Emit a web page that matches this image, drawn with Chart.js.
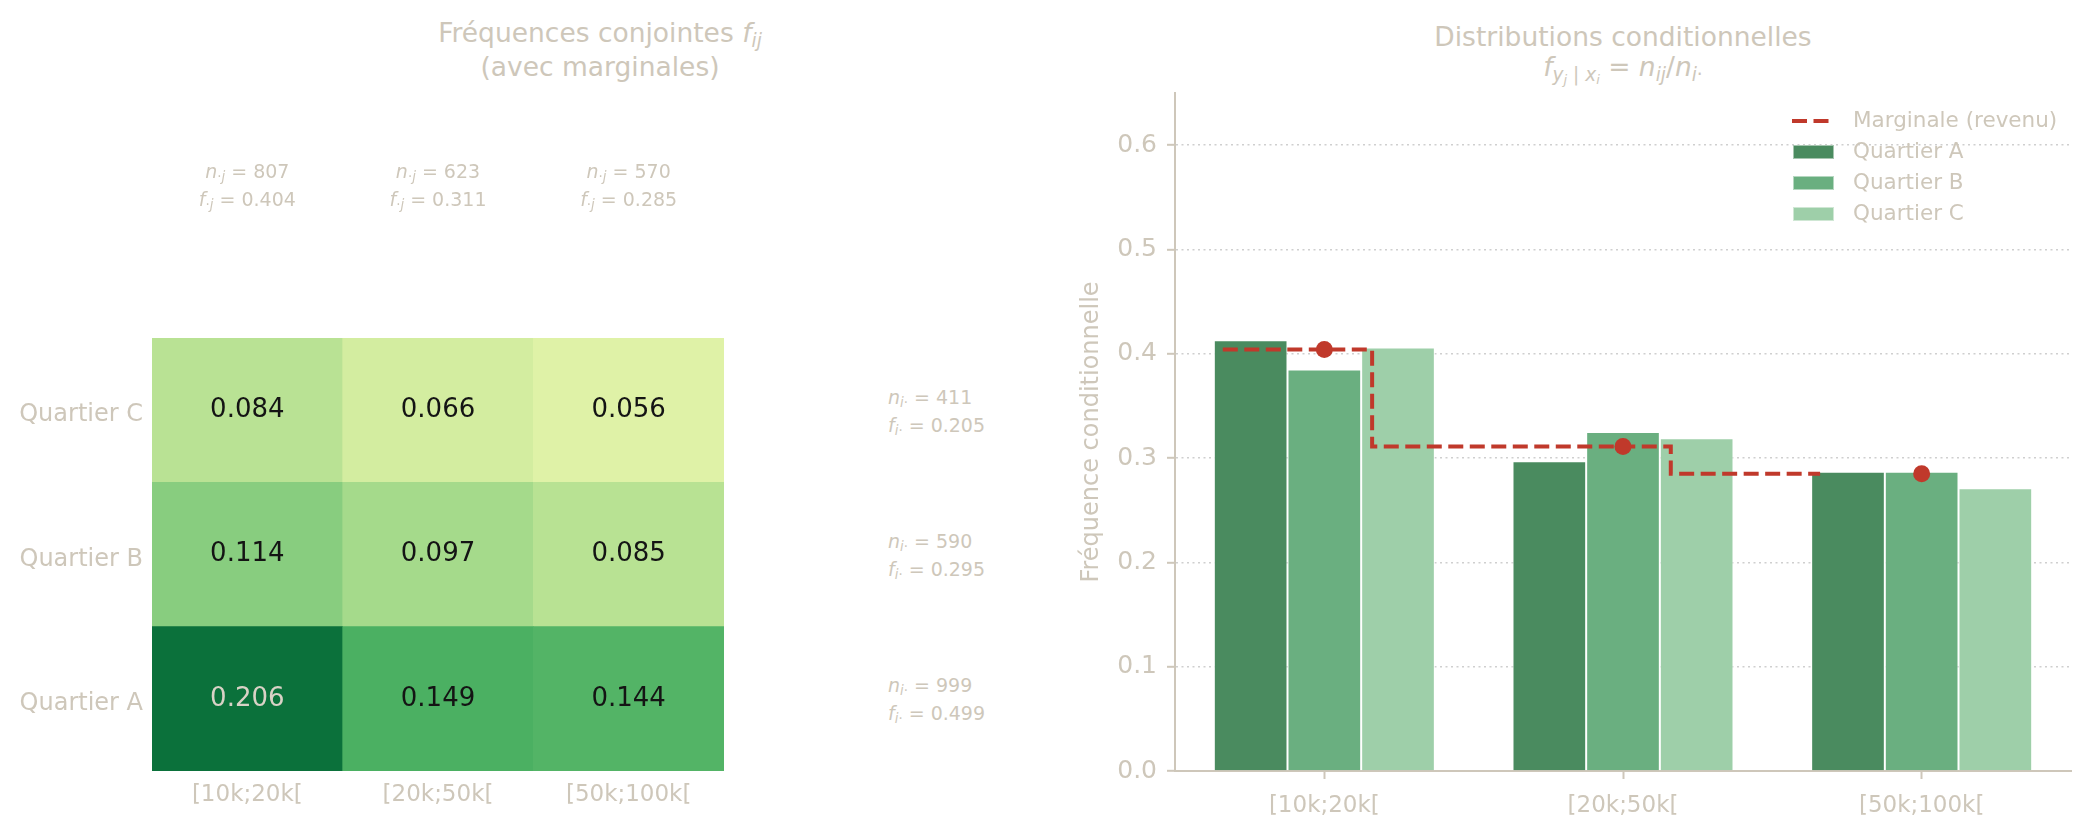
<!DOCTYPE html>
<html lang="fr">
<head>
<meta charset="UTF-8">
<title>Fréquences conjointes et distributions conditionnelles</title>
<script src="https://cdn.jsdelivr.net/npm/chart.js"></script>
<style>
    * {
        box-sizing: border-box;
        margin: 0;
        padding: 0;
    }

    body {
        width: 2092px;
        height: 834px;
        position: relative;
        overflow: hidden;
        background: #ffffff;
        font-family: "DejaVu Sans", sans-serif;
        color: #cec7ba;
    }

    .panneau {
        position: absolute;
        top: 0;
        height: 834px;
    }

    #boite-heat { left: 0; width: 740px; }
    #boite-cond, #boite-marge { left: 1000px; width: 1092px; }
    #boite-marge { pointer-events: none; }

    .titre {
        position: absolute;
        font-size: 26.5px;
        line-height: 30px;
        white-space: nowrap;
        transform: translateX(-50%);
    }

    .marge {
        position: absolute;
        font-size: 19px;
        line-height: 28px;
        white-space: nowrap;
    }

    .marge.centre {
        text-align: center;
        transform: translateX(-50%);
    }

    sub {
        font-size: 70%;
        line-height: 0;
        vertical-align: -0.25em;
    }
</style>
</head>
<body>

<div class="titre" style="left:600px; top:18px">Fréquences conjointes <i>f</i><sub><i>ij</i></sub></div>
<div class="titre" style="left:600px; top:52px">(avec marginales)</div>
<div class="titre" style="left:1623px; top:22px">Distributions conditionnelles</div>
<div class="titre" style="left:1623px; top:52px"><i>f</i><sub><i>y</i><sub><i>j</i></sub> | <i>x</i><sub><i>i</i></sub></sub> = <i>n</i><sub><i>ij</i></sub>/<i>n</i><sub><i>i</i>·</sub></div>

<div class="panneau" id="boite-heat"><canvas id="heat"></canvas></div>
<div class="panneau" id="boite-cond"><canvas id="cond"></canvas></div>
<div class="panneau" id="boite-marge"><canvas id="marge"></canvas></div>

<script>
    // --- données ---
    const revenus = ['[10k;20k[', '[20k;50k[', '[50k;100k['];
    const quartiers = ['Quartier A', 'Quartier B', 'Quartier C'];

    // fréquences conjointes f_ij (une liste par quartier)
    const jointA = [0.206, 0.149, 0.144];
    const jointB = [0.114, 0.097, 0.085];
    const jointC = [0.084, 0.066, 0.056];

    // marginales
    const effectifsColonnes = [807, 623, 570];
    const freqColonnes = [0.404, 0.311, 0.285];
    const effectifsLignes = [999, 590, 411];
    const freqLignes = [0.499, 0.295, 0.205];

    // distributions conditionnelles f(y_j | x_i)
    const condA = [0.413, 0.297, 0.287];
    const condB = [0.385, 0.325, 0.287];
    const condC = [0.406, 0.319, 0.271];

    const ticksY = [0, 0.1, 0.2, 0.3, 0.4, 0.5, 0.6];

    // --- styles ---
    const BEIGE = '#cec7ba';
    const ROUGE = '#c0392b';
    const VERTS = ['#4a8b5f', '#6aaf80', '#9ecfa9'];
    const COULEUR_MAX = 0.247;
    const DECALAGE_MARCHE = -0.34;
    const YLGN = ['#ffffe5', '#f7fcb9', '#d9f0a3', '#addd8e', '#78c679', '#41ab5d', '#238443', '#006837', '#004529'];
    const ZONE = { top: 93, right: 21, bottom: 63, left: 175 };   // zone du graphique de droite

    Chart.defaults.font.family = '"DejaVu Sans", sans-serif';
    Chart.defaults.color = BEIGE;

    function hexRgb(h) {
        return [1, 3, 5].map(i => parseInt(h.substr(i, 2), 16));
    }

    function couleurYlGn(v) {
        let t = Math.min(Math.max(v / COULEUR_MAX, 0), 1) * (YLGN.length - 1);
        let i = Math.min(Math.floor(t), YLGN.length - 2);
        let f = t - i;
        let a = hexRgb(YLGN[i]), b = hexRgb(YLGN[i + 1]);
        let c = a.map((x, k) => Math.round(x + (b[k] - x) * f));
        return `rgb(${c[0]}, ${c[1]}, ${c[2]})`;
    }

    // texte dans les cellules de la carte
    const texteCellules = {
        id: 'texteCellules',
        afterDatasetsDraw(chart) {
            const ctx = chart.ctx;
            ctx.save();
            ctx.font = '26px "DejaVu Sans"';
            ctx.textAlign = 'center';
            ctx.textBaseline = 'middle';
            chart.data.datasets.forEach((ds, r) => {
                chart.getDatasetMeta(r).data.forEach((cell, c) => {
                    let v = ds.valeurs[c];
                    ctx.fillStyle = v / COULEUR_MAX > 0.7 ? '#d9d2c6' : '#141414';
                    ctx.fillText(v.toFixed(3), cell.x, (cell.y + cell.base) / 2);
                });
            });
            ctx.restore();
        }
    };

    // --- carte des fréquences conjointes ---
    const lignesJointes = [jointA, jointB, jointC];

    const heatChart = new Chart(document.getElementById('heat'), {
        type: 'bar',
        data: {
            labels: revenus,
            datasets: lignesJointes.map((ligne, r) => ({
                label: quartiers[r],
                data: ligne.map(() => 1),
                valeurs: ligne,
                backgroundColor: ligne.map(couleurYlGn),
                borderWidth: 0,
                barPercentage: 1,
                categoryPercentage: 1
            }))
        },
        options: {
            responsive: true,
            maintainAspectRatio: false,
            animation: false,
            layout: { padding: { top: 338, right: 16 } },
            plugins: {
                legend: { display: false },
                tooltip: { enabled: false }
            },
            scales: {
                x: {
                    stacked: true,
                    grid: { display: false, drawTicks: false },
                    border: { display: false },
                    ticks: { color: BEIGE, font: { size: 23 }, padding: 10 },
                    afterFit: axis => { axis.height = 63; }
                },
                y: {
                    stacked: true,
                    min: 0,
                    max: quartiers.length,
                    grid: { display: false, drawTicks: false },
                    border: { display: false },
                    ticks: {
                        color: BEIGE,
                        font: { size: 24 },
                        padding: 9,
                        labelOffset: 5,
                        callback: v => quartiers[Math.floor(v)]
                    },
                    afterBuildTicks: axis => {
                        axis.ticks = quartiers.map((q, i) => ({ value: i + 0.5 }));
                    },
                    afterFit: axis => { axis.width = 152; }
                }
            }
        },
        plugins: [texteCellules]
    });

    // marginales autour de la carte (texte HTML placé avec les échelles)
    const sx = heatChart.scales.x, sy = heatChart.scales.y;
    const decalage = document.getElementById('boite-heat').offsetLeft;

    revenus.forEach((r, j) => {
        let d = document.createElement('div');
        d.className = 'marge centre';
        d.style.left = (decalage + sx.getPixelForValue(j)) + 'px';
        d.style.top = '157px';
        d.innerHTML = `<i>n</i><sub>·<i>j</i></sub> = ${effectifsColonnes[j]}<br>` +
                      `<i>f</i><sub>·<i>j</i></sub> = ${freqColonnes[j].toFixed(3)}`;
        document.body.appendChild(d);
    });

    quartiers.forEach((q, i) => {
        let d = document.createElement('div');
        d.className = 'marge';
        d.style.left = (decalage + heatChart.chartArea.right + 164) + 'px';
        d.style.top = (sy.getPixelForValue(i + 0.5) - 27.5) + 'px';
        d.innerHTML = `<i>n</i><sub><i>i</i>·</sub> = ${effectifsLignes[i]}<br>` +
                      `<i>f</i><sub><i>i</i>·</sub> = ${freqLignes[i].toFixed(3)}`;
        document.body.appendChild(d);
    });

    // --- distributions conditionnelles : barres ---
    const conds = [condA, condB, condC];

    const condChart = new Chart(document.getElementById('cond'), {
        type: 'bar',
        data: {
            labels: revenus,
            datasets: quartiers.map((q, k) => ({
                label: q,
                dansLegende: true,
                data: conds[k],
                backgroundColor: VERTS[k],
                borderColor: 'rgba(255,255,255,0.75)',
                borderWidth: 1,
                barPercentage: 1,
                categoryPercentage: 0.74
            }))
        },
        options: {
            responsive: true,
            maintainAspectRatio: false,
            animation: false,
            layout: { padding: { top: ZONE.top, right: ZONE.right } },
            plugins: {
                legend: { display: false },
                tooltip: { enabled: false }
            },
            scales: {
                x: {
                    grid: {
                        offset: false,
                        drawOnChartArea: false,
                        tickLength: 8,
                        tickWidth: 2,
                        tickColor: BEIGE
                    },
                    border: { color: BEIGE, width: 2 },
                    ticks: { color: BEIGE, font: { size: 23 }, padding: 13 },
                    afterFit: axis => { axis.height = ZONE.bottom; }
                },
                y: {
                    min: 0,
                    max: 0.65,
                    grid: {
                        color: '#cfcfcf',
                        lineWidth: 1.6,
                        tickLength: 8,
                        tickWidth: 2,
                        tickColor: BEIGE
                    },
                    border: { color: BEIGE, width: 2, dash: [2, 3.5] },
                    ticks: {
                        color: BEIGE,
                        font: { size: 25 },
                        padding: 10,
                        callback: v => v.toFixed(1)
                    },
                    afterBuildTicks: axis => {
                        axis.ticks = ticksY.map(v => ({ value: v }));
                    },
                    title: {
                        display: true,
                        text: 'Fréquence conditionnelle',
                        color: BEIGE,
                        font: { size: 24 },
                        padding: { top: 77 }
                    },
                    afterFit: axis => { axis.width = ZONE.left; }
                }
            }
        }
    });

    // légende dessinée dans la zone du graphique (coin haut droit)
    const legendeInterne = {
        id: 'legendeInterne',
        afterDraw(chart) {
            const { ctx, chartArea } = chart;
            const x = chartArea.right - 279;
            let y = chartArea.top + 28;
            const items = [...chart.data.datasets, ...condChart.data.datasets].filter(ds => ds.dansLegende);
            ctx.save();
            ctx.font = '21.5px "DejaVu Sans"';
            ctx.textBaseline = 'middle';
            items.forEach(ds => {
                if (ds.type === 'line') {
                    ctx.strokeStyle = ds.borderColor;
                    ctx.lineWidth = ds.borderWidth;
                    ctx.setLineDash(ds.borderDash);
                    ctx.beginPath();
                    ctx.moveTo(x, y);
                    ctx.lineTo(x + 37, y);
                    ctx.stroke();
                    ctx.setLineDash([]);
                } else {
                    ctx.fillStyle = ds.backgroundColor;
                    ctx.fillRect(x + 1, y - 7, 41, 14);
                    ctx.strokeStyle = 'rgba(255,255,255,0.5)';
                    ctx.lineWidth = 1;
                    ctx.strokeRect(x + 1.5, y - 6.5, 40, 13);
                }
                ctx.fillStyle = BEIGE;
                ctx.fillText(ds.label, x + 61, y);
                y += 31;
            });
            ctx.restore();
        }
    };

    // --- distributions conditionnelles : marginale en escalier (calque au-dessus) ---
    const margeChart = new Chart(document.getElementById('marge'), {
        type: 'scatter',
        data: {
            datasets: [
                {
                    label: 'Marginale (points)',
                    data: freqColonnes.map((v, i) => ({ x: i, y: v })),
                    pointRadius: 8.5,
                    pointBackgroundColor: ROUGE,
                    pointBorderWidth: 0,
                    showLine: false
                },
                {
                    type: 'line',
                    label: 'Marginale (revenu)',
                    dansLegende: true,
                    data: freqColonnes.map((v, i) => ({ x: i + DECALAGE_MARCHE, y: v })),
                    stepped: 'middle',
                    borderColor: ROUGE,
                    borderWidth: 4,
                    borderDash: [15, 6.5],
                    pointRadius: 0,
                    fill: false
                }
            ]
        },
        options: {
            responsive: true,
            maintainAspectRatio: false,
            animation: false,
            layout: { padding: ZONE },
            plugins: {
                legend: { display: false },
                tooltip: { enabled: false }
            },
            scales: {
                x: { type: 'linear', display: false, min: -0.5, max: revenus.length - 0.5 },
                y: { type: 'linear', display: false, min: 0, max: 0.65 }
            }
        },
        plugins: [legendeInterne]
    });
</script>

</body>
</html>
